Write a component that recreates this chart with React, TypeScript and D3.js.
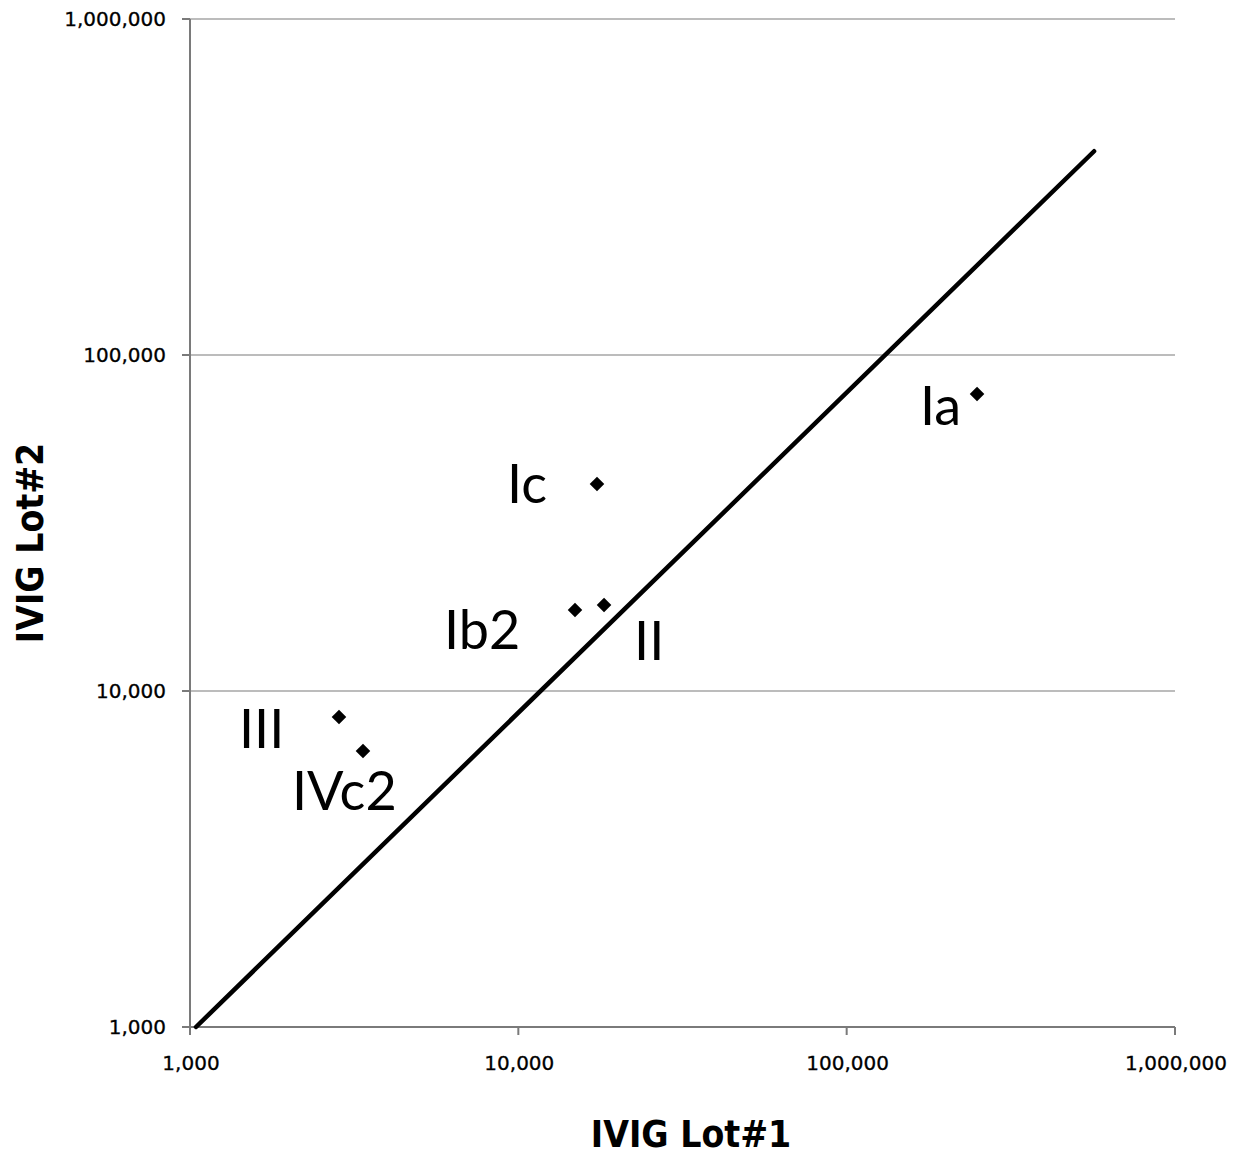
import React from "react";
import * as d3 from "d3";

const W = 1248;
const H = 1159;

// Data
const serotypes = ["Ia", "Ic", "Ib2", "II", "III", "IVc2"];
const lot1Values = [249500, 17360, 14880, 18240, 2843, 3364];
const lot2Values = [76500, 41310, 17420, 18030, 8370, 6627];

// trend line end points (lot1, lot2)
const trendLot1 = [1043, 567000];
const trendLot2 = [1000, 404000];

const tickValues = [1000, 10000, 100000, 1000000];
const tickLabels = ["1,000", "10,000", "100,000", "1,000,000"];

const xTitle = "IVIG Lot#1";
const yTitle = "IVIG Lot#2";

// label placement (layout only)
const labelOffsets: [number, number][] = [
  [-58, 31],
  [-91, 19],
  [-132, 39],
  [29, 55],
  [-101, 31],
  [-72, 59],
];

const PL = 190, PR = 1175, PT = 19, PB = 1027;

export default function App() {
  const x = d3.scaleLog().domain([1000, 1000000]).range([PL, PR]);
  const y = d3.scaleLog().domain([1000, 1000000]).range([PB, PT]);

  const lineGen = d3
    .line<[number, number]>()
    .x((d) => x(d[0]))
    .y((d) => y(d[1]));
  const trendPts: [number, number][] = trendLot1.map((v, i) => [v, trendLot2[i]]);

  const diamond = d3.symbol().type(d3.symbolDiamond2).size(135)();

  const tickFont = "'DejaVu Sans', Verdana, sans-serif";
  const titleFont = "'DejaVu Sans Condensed', 'DejaVu Sans', sans-serif";
  const labelFont = "Lato, 'Open Sans', sans-serif";

  return (
    <svg
      width={W}
      height={H}
      viewBox={`0 0 ${W} ${H}`}
      style={{ position: "absolute", left: 0, top: 0, background: "#fff" }}
    >
      <rect x={0} y={0} width={W} height={H} fill="#fff" />
      {/* gridlines */}
      {tickValues.slice(1).map((t) => (
        <line
          key={"g" + t}
          x1={PL}
          x2={PR}
          y1={y(t)}
          y2={y(t)}
          stroke="#a6a6a6"
          strokeWidth={1.6}
        />
      ))}
      {/* axes */}
      <line x1={PL} x2={PL} y1={PT} y2={PB} stroke="#7a7a7a" strokeWidth={2} />
      <line x1={PL} x2={PR} y1={PB} y2={PB} stroke="#7a7a7a" strokeWidth={2} />
      {tickValues.map((t) => (
        <line
          key={"yt" + t}
          x1={PL - 8}
          x2={PL}
          y1={y(t)}
          y2={y(t)}
          stroke="#7a7a7a"
          strokeWidth={2}
        />
      ))}
      {tickValues.map((t) => (
        <line
          key={"xt" + t}
          x1={x(t)}
          x2={x(t)}
          y1={PB}
          y2={PB + 8}
          stroke="#7a7a7a"
          strokeWidth={2}
        />
      ))}
      {/* tick labels */}
      {tickValues.map((t, i) => (
        <text
          key={"yl" + t}
          x={PL - 24}
          y={y(t) + 7}
          textAnchor="end"
          fontFamily={tickFont}
          fontSize={20}
          fill="#000"
          stroke="#000"
          strokeWidth={0.3}
        >
          {tickLabels[i]}
        </text>
      ))}
      {tickValues.map((t, i) => (
        <text
          key={"xl" + t}
          x={x(t) + 1}
          y={PB + 43}
          textAnchor="middle"
          fontFamily={tickFont}
          fontSize={20}
          fill="#000"
          stroke="#000"
          strokeWidth={0.3}
        >
          {tickLabels[i]}
        </text>
      ))}
      {/* trend line */}
      <path
        d={lineGen(trendPts) || ""}
        fill="none"
        stroke="#000"
        strokeWidth={4.5}
        strokeLinecap="round"
      />
      {/* points */}
      {serotypes.map((s, i) => (
        <path
          key={"p" + s}
          d={diamond || ""}
          transform={`translate(${x(lot1Values[i])},${y(lot2Values[i])})`}
          fill="#000"
        />
      ))}
      {serotypes.map((s, i) => (
        <text
          key={"l" + s}
          x={x(lot1Values[i]) + labelOffsets[i][0] + 1}
          y={y(lot2Values[i]) + labelOffsets[i][1]}
          fontFamily={labelFont}
          fontSize={54}
          fill="#000"
        >
          {s}
        </text>
      ))}
      {/* axis titles */}
      <text
        x={691}
        y={1147}
        textAnchor="middle"
        fontFamily={titleFont}
        fontWeight="bold"
        fontSize={37}
        fill="#000"
      >
        {xTitle}
      </text>
      <text
        transform={`translate(43,543) rotate(-90)`}
        textAnchor="middle"
        fontFamily={titleFont}
        fontWeight="bold"
        fontSize={37}
        fill="#000"
      >
        {yTitle}
      </text>
    </svg>
  );
}
